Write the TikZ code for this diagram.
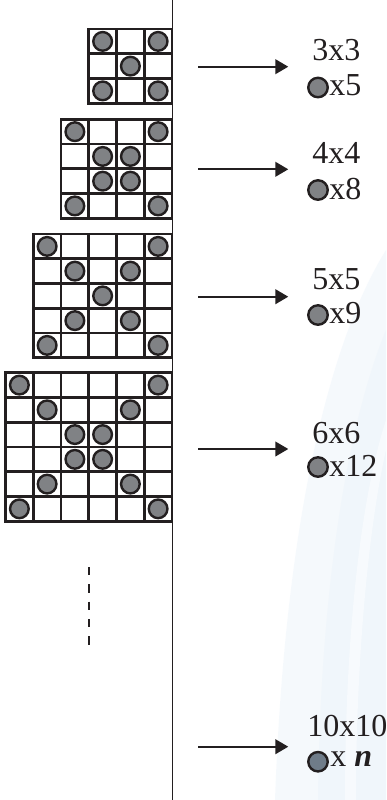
\documentclass[tikz,border=0pt]{standalone}
\usepackage{fontspec}
\setmainfont{Liberation Serif}
\usetikzlibrary{arrows.meta}
\definecolor{ink}{HTML}{231F20}
\definecolor{dotgray}{HTML}{808285}
\definecolor{dotblue}{HTML}{6F7C89}
\definecolor{wm}{HTML}{EDF4FB}
\begin{document}
\begin{tikzpicture}[x=0.75pt,y=-0.75pt,
  gridline/.style={draw=ink,line width=2.1pt,line join=miter},
  dot/.style={circle,draw=ink,line width=1.8pt,fill=dotgray,minimum size=14pt,inner sep=0pt},
  bluedot/.style={dot,fill=dotblue},
  labdot/.style={dot,minimum size=14.6pt},
  lab/.style={font=\fontsize{24}{28}\selectfont,inner sep=0pt,text=ink,anchor=base west},
  arr/.style={draw=ink,line width=1.5pt,-{Triangle[length=9.75pt,width=11pt]}},
  axis/.style={draw=ink,line width=1.1pt},
  dots/.style={draw=ink,line width=1.5pt,dash pattern=on 6.2pt off 6.8pt}]
\useasboundingbox (0,0) rectangle (386,800);
\fill[white] (0,0) rectangle (386,800);
% faint watermark
\fill[wm,opacity=0.5] (386,250) .. controls (330,340) and (285,520) .. (275,800) -- (386,800) -- cycle;
\fill[wm,opacity=0.6] (386,330) .. controls (345,430) and (320,600) .. (318,800) -- (386,800) -- cycle;
\fill[white,opacity=0.5] (386,420) .. controls (360,500) and (345,640) .. (345,800) -- (356,800) .. controls (356,650) and (370,520) .. (386,450) -- cycle;
% vertical axis
\coordinate (vtop) at (172.5,0);
\coordinate (vbot) at (172.5,800);
\draw[axis] (vtop) -- (vbot);
% grids
\foreach \n/\t/\cl in {3/29/{0/0,2/0,1/1,0/2,2/2},
                       4/119.3/{0/0,3/0,1/1,2/1,1/2,2/2,0/3,3/3},
                       5/234/{0/0,4/0,1/1,3/1,2/2,1/3,3/3,0/4,4/4},
                       6/372.7/{0/0,5/0,1/1,4/1,2/2,3/2,2/3,3/3,1/4,4/4,0/5,5/5}}{
  \pgfmathsetmacro\L{172-\n*27.75}
  \pgfmathtruncatemacro\m{\n-1}
  \foreach \i in {1,...,\m}{
    \draw[gridline] (\L+\i*27.75,\t) -- ++(0,\n*24.75);
    \draw[gridline] (\L,\t+\i*24.75) -- ++(\n*27.75,0);
  }
  \draw[gridline] (\L,\t) rectangle ++(\n*27.75,\n*24.75);
  \foreach \c/\r in \cl{
    \node[dot] (g\n-\c-\r) at (\L+\c*27.75+13.875,\t+\r*24.75+12.375) {};
  }
}
% dashed continuation
\coordinate (dtop) at (89.3,567);
\coordinate (dbot) at (89.3,644.5);
\draw[dots] (dtop) -- (dbot);
% arrows and labels
\foreach \k/\ay/\ty/\cy/\ny/\title/\cnt in {3/66.7/60/87.5/95/3x3/x5,
    4/169.3/163.3/190/199.3/4x4/x8,
    5/296.7/289.3/315/323.3/5x5/x9,
    6/449/443.3/467/476/6x6/x12}{
  \coordinate (s\k) at (198.3,\ay);
  \coordinate (e\k) at (288.3,\ay);
  \draw[arr] (s\k) -- (e\k);
  \node[lab] (t\k) at (312,\ty) {\title};
  \node[labdot] (c\k) at (318,\cy) {};
  \node[lab] (n\k) at (329,\ny) {\cnt};
}
\coordinate (s10) at (198.3,746.7);
\coordinate (e10) at (288.3,746.7);
\draw[arr] (s10) -- (e10);
\node[lab] (t10) at (307,736.7) {10x10};
\node[labdot,fill=dotblue] (c10) at (318,761.7) {};
\node[lab] (n10) at (330,766.7) {x \textbf{\textit{n}}};
\end{tikzpicture}
\end{document}
